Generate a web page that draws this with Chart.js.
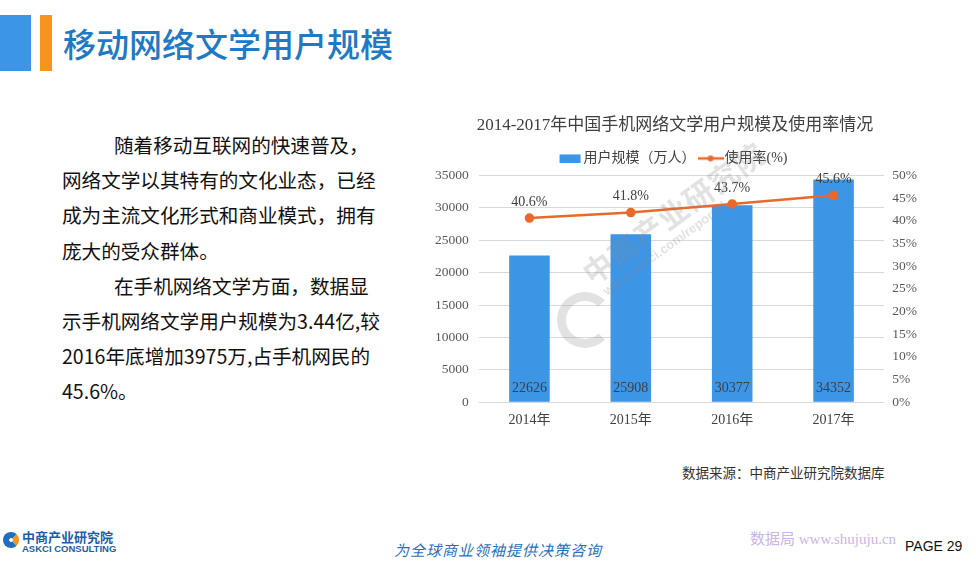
<!DOCTYPE html>
<html>
<head>
<meta charset="utf-8">
<script src="https://cdn.jsdelivr.net/npm/chart.js@4/dist/chart.umd.min.js"></script>
<style>
    body { margin: 0; width: 976px; height: 563px; background: #fff; position: relative; overflow: hidden; font-family: "Noto Sans CJK SC", sans-serif; }
    .bar-blue { position: absolute; left: 0; top: 15px; width: 31px; height: 56px; background: #3c95e6; }
    .bar-orange { position: absolute; left: 40px; top: 15px; width: 12px; height: 56px; background: #f7941d; }
    .page-title { position: absolute; left: 63px; top: 20px; font-size: 33px; line-height: 46px; color: #1f7ac6; font-weight: 500; }
    .body-text { position: absolute; left: 62px; top: 127px; width: 360px; font-size: 19.6px; line-height: 35.2px; color: #111; white-space: nowrap; }
    .body-text .ind { padding-left: 52px; }
    .chart-box { position: absolute; left: 425px; top: 115px; width: 500px; height: 316px; }
    .source { position: absolute; left: 682px; top: 462px; font-size: 13.5px; color: #333; font-family: "Liberation Serif", "Noto Sans CJK SC", serif; }
    .wm { position: absolute; left: 575px; top: 262px; transform: rotate(-36deg); transform-origin: left top; color: rgba(140,140,140,0.25); font-weight: 700; pointer-events: none; }
    .wm .big { font-size: 30px; line-height: 34px; letter-spacing: 1px; }
    .wm .small { font-size: 13px; font-family: "Liberation Sans", sans-serif; margin-left: 6px; }
    .wm-circle { position: absolute; left: 557px; top: 292px; width: 38px; height: 38px; border-radius: 50%; border: 9px solid rgba(150,150,150,0.28); border-right-color: transparent; }
    .logo-icon { position: absolute; left: 3px; top: 532px; width: 4px; height: 4px; border-radius: 50%; border: 6px solid #1d6fc0; border-right-color: #f7941d; }
    .logo-cn { position: absolute; left: 22px; top: 527px; font-size: 13px; font-weight: 700; color: #1d5da8; }
    .logo-en { position: absolute; left: 22px; top: 543px; font-size: 9.5px; font-weight: 700; color: #1d5da8; font-family: "Liberation Sans", sans-serif; }
    .slogan { position: absolute; left: 394px; top: 539px; font-size: 15px; font-style: italic; color: #2a6fbf; letter-spacing: 1px; }
    .sjj { position: absolute; left: 750px; top: 527px; font-size: 15px; color: #c9b6e6; font-family: "Liberation Serif", "Noto Sans CJK SC", serif; }
    .page-no { position: absolute; left: 905px; top: 538px; font-size: 14px; color: #111; font-family: "Liberation Sans Narrow", "Liberation Sans", sans-serif; }
</style>
</head>
<body>
<div class="bar-blue"></div>
<div class="bar-orange"></div>
<div class="page-title">移动网络文学用户规模</div>

<div class="body-text">
    <div class="ind">随着移动互联网的快速普及，</div>
    <div>网络文学以其特有的文化业态，已经</div>
    <div>成为主流文化形式和商业模式，拥有</div>
    <div>庞大的受众群体。</div>
    <div class="ind">在手机网络文学方面，数据显</div>
    <div>示手机网络文学用户规模为3.44亿,较</div>
    <div>2016年底增加3975万,占手机网民的</div>
    <div>45.6%。</div>
</div>

<div class="chart-box"><canvas id="chart"></canvas></div>
<div class="wm-circle"></div>
<div class="wm"><div class="big">中商产业研究院</div><div class="small">www.askci.com/reports/</div></div>

<div class="source">数据来源：中商产业研究院数据库</div>

<div class="logo-icon"></div>
<div class="logo-cn">中商产业研究院</div>
<div class="logo-en">ASKCI CONSULTING</div>
<div class="slogan">为全球商业领袖提供决策咨询</div>
<div class="sjj">数据局 www.shujuju.cn</div>
<div class="page-no">PAGE 29</div>

<script>
// Data
const years = ['2014年', '2015年', '2016年', '2017年'];
const users = [22626, 25908, 30377, 34352];      // 用户规模（万人）
const rates = [40.6, 41.8, 43.7, 45.6];          // 使用率(%)

const BLUE = '#3d95e6';
const ORANGE = '#e8692a';
const SERIF = '"Liberation Serif", "Noto Sans CJK SC", serif';

// Legend icons
function makeIcon(kind) {
    const c = document.createElement('canvas');
    c.width = 26; c.height = 10;
    const g = c.getContext('2d');
    if (kind === 'bar') {
        g.fillStyle = BLUE;
        g.fillRect(3, 1, 21, 9);
    } else {
        g.strokeStyle = ORANGE;
        g.lineWidth = 2.5;
        g.beginPath(); g.moveTo(0, 5); g.lineTo(26, 5); g.stroke();
        g.fillStyle = ORANGE;
        g.beginPath(); g.arc(13, 5, 3, 0, Math.PI * 2); g.fill();
    }
    return c;
}
const icons = [makeIcon('bar'), makeIcon('line')];

// value labels (dataset 0 = line, dataset 1 = bars)
const valueLabels = {
    id: 'valueLabels',
    afterDatasetsDraw(chart) {
        const ctx = chart.ctx;
        ctx.save();
        ctx.font = '14px ' + SERIF;
        ctx.textAlign = 'center';
        ctx.textBaseline = 'bottom';
        ctx.fillStyle = '#404040';
        const yBottom = chart.scales.y.bottom;
        chart.getDatasetMeta(1).data.forEach((el, i) => {
            ctx.fillText(String(users[i]), el.x, yBottom - 7);
        });
        chart.getDatasetMeta(0).data.forEach((el, i) => {
            ctx.fillText(rates[i].toFixed(1) + '%', el.x, el.y - 9);
        });
        ctx.restore();
    }
};

new Chart(document.getElementById('chart'), {
    data: {
        labels: years,
        datasets: [
            {
                type: 'line',
                label: '使用率(%)',
                data: rates,
                yAxisID: 'y1',
                borderColor: ORANGE,
                backgroundColor: ORANGE,
                borderWidth: 2.5,
                pointRadius: 3.5,
                pointHoverRadius: 3.5,
                tension: 0,
                order: 0
            },
            {
                type: 'bar',
                label: '用户规模（万人）',
                data: users,
                yAxisID: 'y',
                backgroundColor: BLUE,
                categoryPercentage: 1,
                barPercentage: 0.4,
                order: 1
            }
        ]
    },
    options: {
        responsive: true,
        maintainAspectRatio: false,
        animation: false,
        plugins: {
            title: {
                display: true,
                text: '2014-2017年中国手机网络文学用户规模及使用率情况',
                color: '#404040',
                font: { family: SERIF, size: 17, weight: 'normal' },
                padding: { top: 0, bottom: 8 }
            },
            legend: {
                position: 'top',
                labels: {
                    color: '#404040',
                    font: { family: SERIF, size: 14 },
                    usePointStyle: true,
                    padding: 8,
                    generateLabels(chart) {
                        // bar first, then line
                        return [1, 0].map((di, k) => ({
                            text: chart.data.datasets[di].label,
                            pointStyle: icons[k],
                            fontColor: '#404040',
                            datasetIndex: di,
                            hidden: false,
                            lineWidth: 0
                        }));
                    }
                }
            },
            tooltip: { enabled: false }
        },
        scales: {
            x: {
                grid: { display: false },
                border: { display: false },
                ticks: { color: '#404040', font: { family: SERIF, size: 14 }, padding: 2 }
            },
            y: {
                position: 'left',
                min: 0,
                max: 35000,
                ticks: {
                    stepSize: 5000,
                    color: '#595959',
                    font: { family: SERIF, size: 13.5 },
                    padding: 10,
                    callback: v => String(v)
                },
                grid: { color: '#d9d9d9', drawTicks: false },
                border: { display: false }
            },
            y1: {
                position: 'right',
                min: 0,
                max: 50,
                ticks: {
                    stepSize: 5,
                    color: '#595959',
                    font: { family: SERIF, size: 13.5 },
                    padding: 8,
                    callback: v => v + '%'
                },
                grid: { display: false, drawTicks: false },
                border: { display: false }
            }
        }
    },
    plugins: [valueLabels]
});
</script>
</body>
</html>
